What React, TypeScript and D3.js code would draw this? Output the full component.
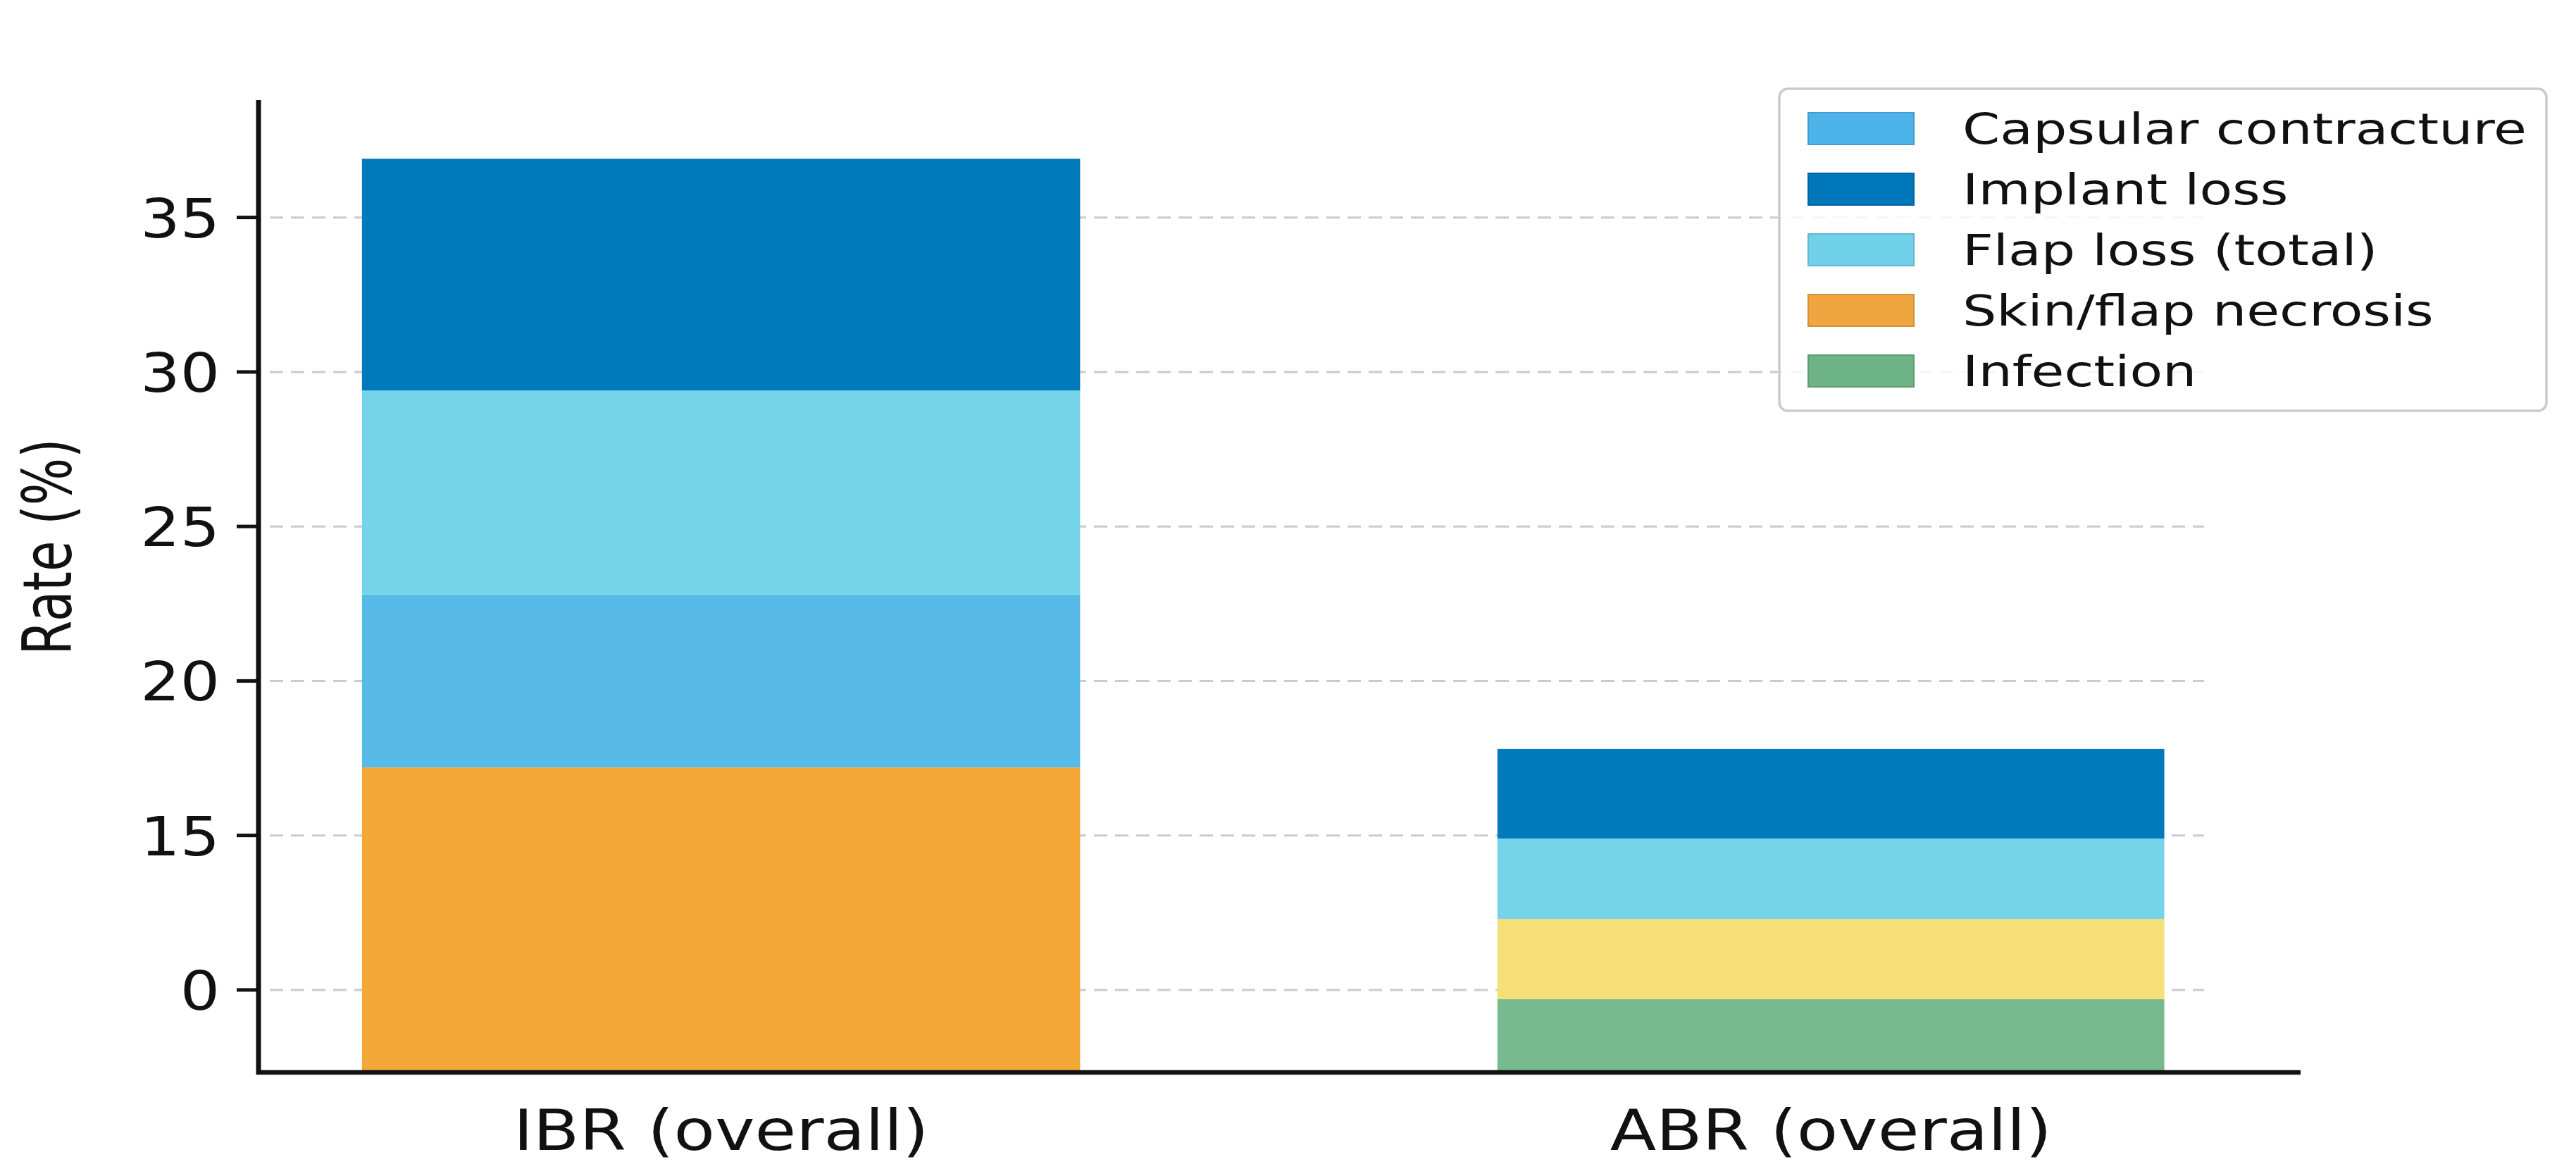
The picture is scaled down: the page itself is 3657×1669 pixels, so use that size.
import React from "react";
import * as d3 from "d3";

// categories and stacked series (bottom to top)
const groups = ["IBR (overall)", "ABR (overall)"];
const seriesKeys = [
  "Infection",
  "Skin/flap necrosis",
  "Other",
  "Capsular contracture",
  "Flap loss (total)",
  "Implant loss",
];
const infection = [0, 9.7];
const necrosis = [17.2, 0];
const other = [0, 2.6];
const capsular = [5.6, 0];
const flapLoss = [6.6, 2.6];
const implantLoss = [7.5, 2.9];

// legend order as in the picture
const legendKeys = [
  "Capsular contracture",
  "Implant loss",
  "Flap loss (total)",
  "Skin/flap necrosis",
  "Infection",
];

// y ticks, with the labels exactly as printed
const tickValues = [10, 15, 20, 25, 30, 35];
const tickLabels = ["0", "15", "20", "25", "30", "35"];

const colors: Record<string, string> = {
  Infection: "#77BA8D",
  "Skin/flap necrosis": "#F2A736",
  Other: "#F5DF76",
  "Capsular contracture": "#57BAE7",
  "Flap loss (total)": "#75D4EA",
  "Implant loss": "#007ABA",
};
const legendColors: Record<string, string> = {
  Infection: "#6DB383",
  "Skin/flap necrosis": "#F0A640",
  "Capsular contracture": "#4DB4EB",
  "Flap loss (total)": "#72D1EA",
  "Implant loss": "#0077BA",
};

// the two bars are drawn slightly different in width in the original
const barWidthFactor = [1.037, 0.963];

const W = 3657;
const H = 1669;
const left = 367;
const right = 3266;
const top = 142;
const bottom = 1522;
const font = "'DejaVu Sans', sans-serif";

export default function App() {
  const rows = groups.map((g, i) => ({
    group: g,
    Infection: infection[i],
    "Skin/flap necrosis": necrosis[i],
    Other: other[i],
    "Capsular contracture": capsular[i],
    "Flap loss (total)": flapLoss[i],
    "Implant loss": implantLoss[i],
  }));

  const stacked = d3.stack<any>().keys(seriesKeys)(rows);

  const x = d3
    .scaleBand<string>()
    .domain(groups)
    .range([left, right])
    .paddingInner(0.376)
    .paddingOuter(0.108)
    .align(0.485);

  const y = d3.scaleLinear().domain([7.33, 38.8]).range([bottom, top]).clamp(true);

  const legendX = 2526;
  const legendY = 126;
  const rowGap = 86;

  return (
    <svg
      width={W}
      height={H}
      style={{ position: "absolute", left: 0, top: 0, background: "#fff" }}
    >
      {/* grid */}
      <g>
        {tickValues.map((t) => (
          <line
            key={t}
            x1={left + 16}
            x2={3129}
            y1={y(t)}
            y2={y(t)}
            stroke="#cacbd2"
            strokeWidth={3}
            strokeDasharray="19 11"
          />
        ))}
      </g>

      {/* bars */}
      <g>
        {stacked.map((s) =>
          s.map((d, i) => {
            const y0 = y(d[0]);
            const y1 = y(d[1]);
            if (y0 - y1 <= 0) return null;
            const bw = x.bandwidth() * barWidthFactor[i];
            const cx = (x(groups[i]) as number) + x.bandwidth() / 2;
            return (
              <rect
                key={s.key + i}
                x={cx - bw / 2}
                width={bw}
                y={y1}
                height={y0 - y1}
                fill={colors[s.key]}
              />
            );
          })
        )}
      </g>

      {/* y axis */}
      <line x1={left} x2={left} y1={top} y2={bottom + 3} stroke="#111" strokeWidth={7} />
      {tickValues.map((t, i) => (
        <g key={t}>
          <line x1={left - 31} x2={left} y1={y(t)} y2={y(t)} stroke="#111" strokeWidth={5} />
          <text
            transform={`translate(312,${y(t) + 28}) scale(1.15,1)`}
            textAnchor="end"
            fontFamily={font}
            fontSize={77}
            fill="#111"
          >
            {tickLabels[i]}
          </text>
        </g>
      ))}
      <text
        transform="translate(101,776) rotate(-90) scale(0.73,1)"
        textAnchor="middle"
        fontFamily={font}
        fontSize={97}
        fill="#111"
      >
        Rate (%)
      </text>

      {/* x axis */}
      <line x1={left - 3} x2={right} y1={bottom} y2={bottom} stroke="#111" strokeWidth={6.5} />
      {groups.map((g) => (
        <text
          key={g}
          transform={`translate(${(x(g) as number) + x.bandwidth() / 2},1632) scale(1.18,1)`}
          textAnchor="middle"
          fontFamily={font}
          fontSize={81}
          fill="#111"
        >
          {g}
        </text>
      ))}

      {/* legend */}
      <g>
        <rect
          x={legendX}
          y={legendY}
          width={1089}
          height={457}
          rx={12}
          fill="#fff"
          fillOpacity={0.85}
          stroke="#c9cbcf"
          strokeWidth={3.5}
        />
        {legendKeys.map((k, i) => {
          const cy = 182 + i * rowGap;
          return (
            <g key={k}>
              <rect
                x={2567}
                y={cy - 22}
                width={150}
                height={45}
                fill={legendColors[k]}
                stroke={d3.color(legendColors[k])!.darker(0.4).formatHex()}
                strokeWidth={2}
              />
              <text
                transform={`translate(2786,${cy + 22}) scale(1.27,1)`}
                fontFamily={font}
                fontSize={60}
                fill="#111"
              >
                {k}
              </text>
            </g>
          );
        })}
      </g>
    </svg>
  );
}
